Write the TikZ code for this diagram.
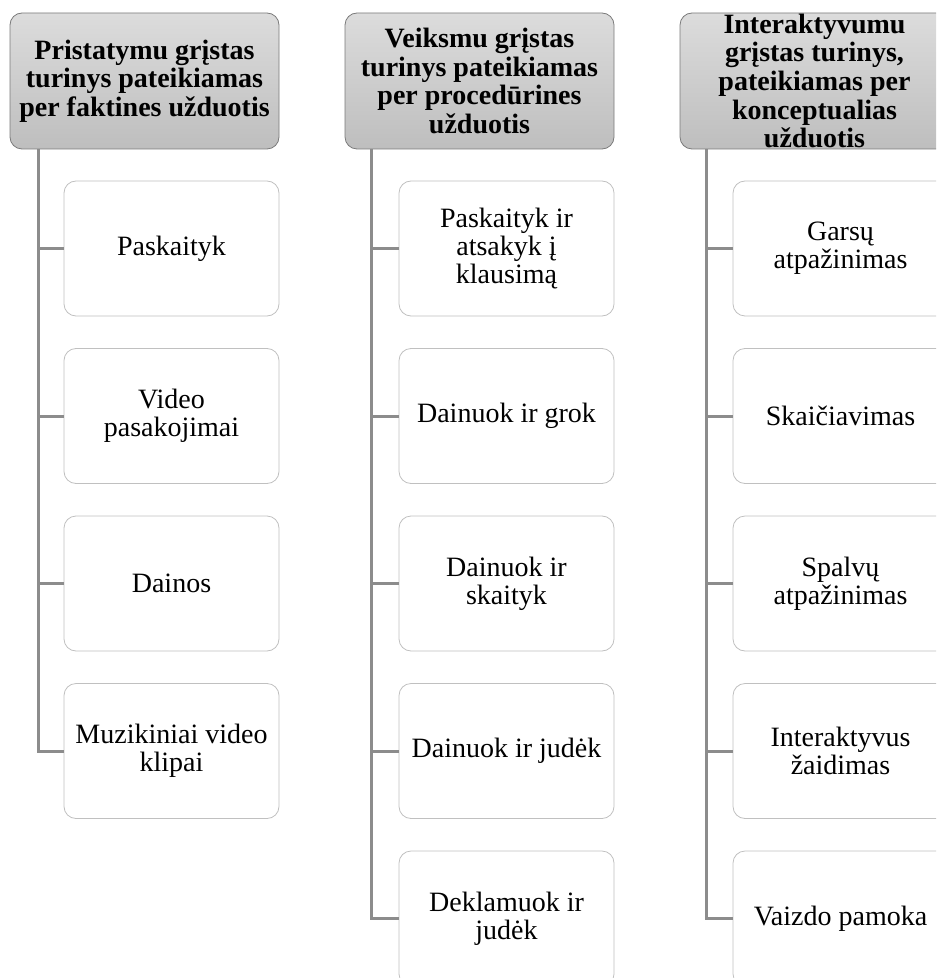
\documentclass[tikz,border=0pt]{standalone}
\usepackage{fontspec}
\setmainfont{Liberation Serif}
\usetikzlibrary{positioning}
\definecolor{hdrtop}{HTML}{DCDCDC}
\definecolor{hdrbot}{HTML}{BEBEBE}
\definecolor{hdrline}{HTML}{7A7A7A}
\definecolor{boxline}{HTML}{C0C0C0}
\definecolor{linkgray}{HTML}{8C8C8C}
\tikzset{
	hdr/.style={draw=hdrline, rounded corners=6pt, top color=hdrtop, bottom color=hdrbot,
		minimum width=134.5pt, minimum height=68pt, align=center, inner sep=0pt,
		font=\fontsize{14}{14.3}\selectfont\bfseries},
	item/.style={draw=boxline, fill=white, rounded corners=6pt,
		minimum width=107.5pt, minimum height=67.5pt, align=center, inner sep=0pt,
		font=\fontsize{14}{14}\selectfont},
	link/.style={draw=linkgray, line width=1.5pt}
}
\begin{document}
\begin{tikzpicture}[x=0.5pt,y=-0.5pt]
			\useasboundingbox (0,0) rectangle (936,978);
			\clip (0,0) rectangle (936,978);
			% headers
			\node[hdr] (hA) at (144.5,81) {Pristatymu grįstas\\turinys pateikiamas\\per faktines užduotis};
			\node[hdr] (hB) at (479.5,81) {Veiksmu grįstas\\turinys pateikiamas\\per procedūrines\\užduotis};
			\node[hdr] (hC) at (814.5,81) {Interaktyvumu\\grįstas turinys,\\pateikiamas per\\konceptualias\\užduotis};
			\coordinate (tA) at ([xshift=14.5pt]hA.south west);
			\coordinate (tB) at ([xshift=13.5pt]hB.south west);
			\coordinate (tC) at ([xshift=13.5pt]hC.south west);
			% items
			\foreach \txt [count=\i] in {Paskaityk,{Video\\pasakojimai},Dainos,{Muzikiniai video\\klipai}}{
				\node[item] (a\i) at (171.5,248.5+167.5*\i-167.5) {\txt};
				\draw[link] (tA |- a\i.west) -- (a\i.west);
			}
			\foreach \txt [count=\i] in {{Paskaityk ir\\atsakyk į\\klausimą},Dainuok ir grok,{Dainuok ir\\skaityk},Dainuok ir judėk,{Deklamuok ir\\judėk}}{
				\node[item] (b\i) at (506.5,248.5+167.5*\i-167.5) {\txt};
				\draw[link] (tB |- b\i.west) -- (b\i.west);
			}
			\foreach \txt [count=\i] in {{Garsų\\atpažinimas},Skaičiavimas,{Spalvų\\atpažinimas},{Interaktyvus\\žaidimas},Vaizdo pamoka}{
				\node[item] (c\i) at (840.5,248.5+167.5*\i-167.5) {\txt};
				\draw[link] (tC |- c\i.west) -- (c\i.west);
			}
			% trunks
			\draw[link] (tA) |- (a4.west);
			\draw[link] (tB) |- (b5.west);
			\draw[link] (tC) |- (c5.west);
			\end{tikzpicture}
\end{document}
